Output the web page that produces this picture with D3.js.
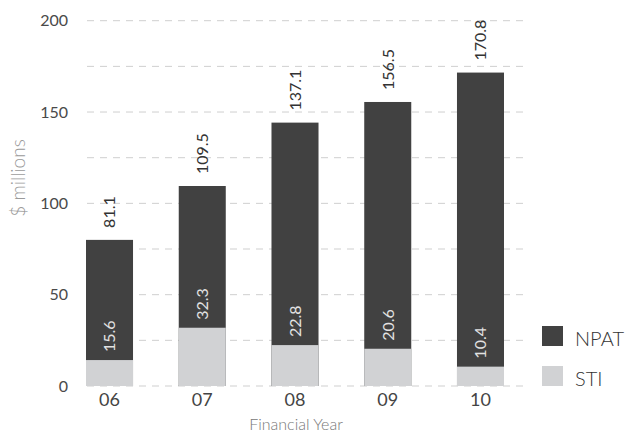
<!DOCTYPE html>
<html><head><meta charset="utf-8">
<script src="https://cdn.jsdelivr.net/npm/d3@7"></script>
<style>body{margin:0;background:#fff;}svg{display:block;font-family:Lato,"Open Sans",sans-serif;}</style>
</head><body><svg id="c" width="630" height="434"></svg>
<script>
const years = ["06","07","08","09","10"];
const npat = [80, 109.5, 144.2, 155.5, 171.6];
const npatLabels = ["81.1","109.5","137.1","156.5","170.8"];
const sti = [14.2, 31.9, 22.4, 20.4, 10.6];
const stiLabels = ["15.6","32.3","22.8","20.6","10.4"];
const yTicks = [0,50,100,150,200];
const gridVals = [0,25,50,75,100,125,150,175,200];
const legendItems = ["NPAT","STI"];

const svg = d3.select("#c");
const y = d3.scaleLinear().domain([0,200]).range([386,20.7]);
const x = d3.scaleBand().domain(years).range([86,504]).paddingInner(0.493).paddingOuter(0);
const cDark = "#414141", cLight = "#d1d2d4";

svg.append("g").selectAll("line").data(gridVals).join("line")
  .attr("x1",87).attr("x2",528).attr("y1",d=>y(d)).attr("y2",d=>y(d))
  .attr("stroke","#cfcfcf").attr("stroke-width",1).attr("stroke-dasharray","7,6");

svg.append("g").selectAll("text").data(yTicks).join("text")
  .attr("x",68).attr("y",d=>y(d)).attr("dy","0.36em").attr("text-anchor","end")
  .attr("font-size",16).attr("fill","#4a4a4a").text(d=>d);

const idx = d3.range(years.length);
svg.append("g").selectAll("rect").data(idx).join("rect")
  .attr("x",i=>x(years[i])).attr("width",x.bandwidth())
  .attr("y",i=>y(npat[i])).attr("height",i=>y(0)-y(npat[i])).attr("fill",cDark);
svg.append("g").selectAll("rect").data(idx).join("rect")
  .attr("x",i=>x(years[i])).attr("width",x.bandwidth())
  .attr("y",i=>y(sti[i])).attr("height",i=>y(0)-y(sti[i])).attr("fill",cLight);

svg.append("g").selectAll("text").data(idx).join("text")
  .attr("transform",i=>`translate(${x(years[i])+x.bandwidth()/2},${y(npat[i])-12}) rotate(-90)`)
  .attr("dy","0.36em").attr("font-size",16).attr("fill","#333").text(i=>npatLabels[i]);
svg.append("g").selectAll("text").data(idx).join("text")
  .attr("transform",i=>`translate(${x(years[i])+x.bandwidth()/2},${y(sti[i])-8}) rotate(-90)`)
  .attr("dy","0.36em").attr("font-size",16).attr("fill","#e2e2e2").text(i=>stiLabels[i]);

svg.append("g").selectAll("text").data(years).join("text")
  .attr("x",d=>x(d)+x.bandwidth()/2).attr("y",406).attr("text-anchor","middle")
  .attr("font-size",18).attr("fill","#444").text(d=>d);

svg.append("text").attr("x",296).attr("y",430).attr("text-anchor","middle")
  .attr("font-size",16).attr("font-weight",300).attr("fill","#777").text("Financial Year");
svg.append("text").attr("transform","translate(25,178) rotate(-90)").attr("text-anchor","middle")
  .attr("font-size",19).attr("font-weight",300).attr("fill","#9a9a9a").text("$ millions");

const lg = svg.append("g").selectAll("g").data(legendItems).join("g")
  .attr("transform",(d,i)=>`translate(542,${326+i*40})`);
lg.append("rect").attr("width",21).attr("height",20).attr("fill",(d,i)=>i===0?cDark:cLight);
lg.append("text").attr("x",33).attr("y",20).attr("font-size",20).attr("font-weight",300).attr("fill","#333").text(d=>d);
</script></body></html>
